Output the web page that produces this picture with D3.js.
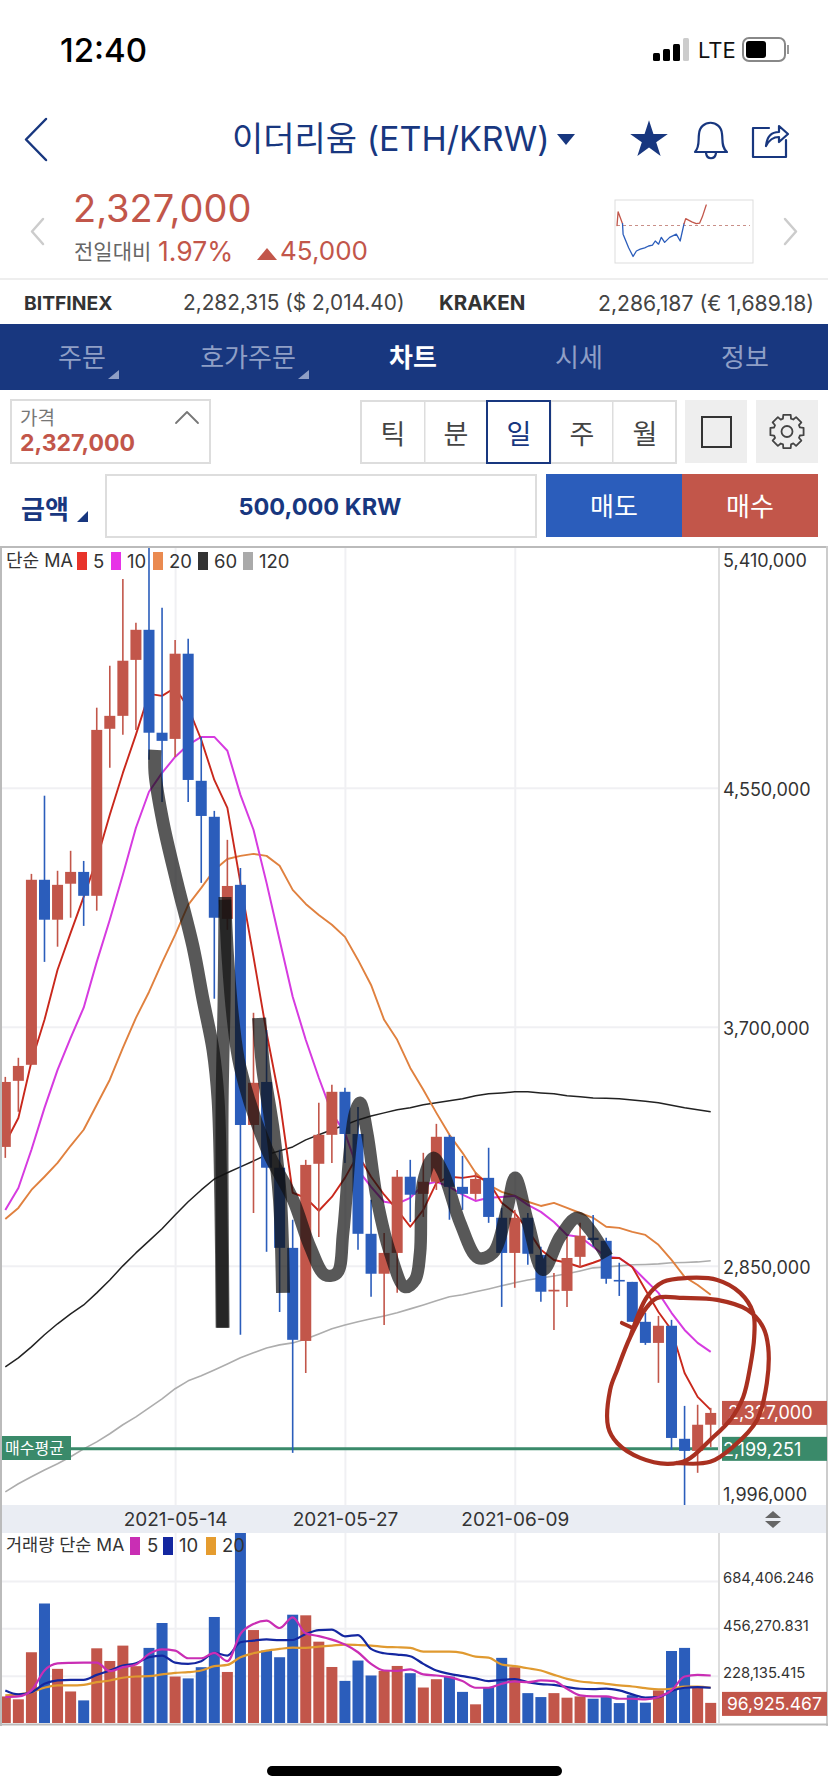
<!DOCTYPE html>
<html>
<head>
<meta charset="utf-8">
<script src="https://cdn.jsdelivr.net/npm/d3@7"></script>
<style>
  html, body { margin: 0; padding: 0; background: #fff; }
  svg { display: block; }
  text { font-family: Inter, "Noto Sans CJK KR", sans-serif; }
  .tick line { stroke: #f0f0f3; stroke-width: 2; }
  .domain { display: none; }
</style>
</head>
<body>
<svg id="page" width="828" height="1792"></svg>
<script>
// prices in thousand KRW, volumes in thousand ETH units, one entry per day from 2021-05-01
const opens = [3273,3508,3565,4223,4081,4209,4251,4166,4760,4806,5005,5112,4746,4724,5027,4575,4447,4084,4205,3351,3504,3199,2914,2583,3213,3316,3469,3319,2964,2822,2896,3167,3106,3149,3309,3131,3106,3163,3021,2896,3021,2889,2759,2761,2882,2950,2939,2800,2793,2651,2576,2637,2235,2192,2285];
const closes = [3504,3561,4223,4081,4205,4251,4166,4756,4806,5002,5112,4746,4717,5027,4578,4450,4088,4201,3351,3501,3199,2914,2587,3209,3316,3469,3319,2964,2822,2896,3167,3103,3149,3309,3131,3106,3159,3024,2896,3021,2893,2758,2765,2878,2957,2942,2804,2797,2651,2576,2637,2238,2192,2285,2327];
const highs = [3522,3590,4244,4522,4255,4326,4290,4835,4984,5293,5137,5500,5190,5076,5080,4731,4468,4365,4265,3750,3689,3263,3014,3227,3430,3494,3483,3415,3085,2967,3191,3227,3252,3355,3316,3241,3181,3270,3056,3049,3038,2918,2825,2953,3003,3031,2950,2861,2793,2683,2672,2658,2352,2356,2345];
const lows = [3234,3398,3565,3931,3985,4088,4059,4113,4621,4739,4756,4650,4500,4660,4500,4212,3800,4045,2605,3038,2900,2686,2185,2469,2953,3216,3216,2907,2740,2640,2754,3006,3024,3120,3014,3049,3085,3003,2704,2772,2854,2722,2622,2704,2843,2918,2786,2743,2651,2569,2434,2196,1982,2114,2206];

const ma5 = [3287,3376,3576,3725,3903,4034,4162,4294,4454,4603,4739,4884,4877,4906,4835,4721,4578,4479,4212,3949,3679,3440,3110,3092,3046,3095,3163,3245,3167,3103,3049,2989,3049,3145,3167,3163,3170,3149,3074,3038,2978,2907,2871,2861,2846,2861,2878,2878,2846,2765,2686,2622,2469,2384,2338];
const ma10 = [3049,3127,3263,3412,3547,3661,3768,3931,4081,4241,4408,4536,4603,4660,4703,4731,4731,4682,4525,4401,4212,4009,3807,3654,3519,3394,3323,3191,3131,3078,3071,3092,3138,3149,3131,3103,3081,3092,3095,3099,3067,3042,3006,2960,2953,2918,2882,2878,2846,2800,2754,2683,2622,2576,2544];
const ma20 = [3017,3056,3120,3167,3216,3277,3334,3423,3512,3625,3732,3824,3928,4027,4134,4194,4258,4297,4308,4315,4308,4273,4187,4137,4098,4063,4020,3938,3849,3725,3654,3554,3476,3394,3316,3252,3181,3138,3113,3099,3078,3063,3074,3056,3038,3021,2989,2985,2971,2960,2925,2871,2811,2782,2747];
const ma60 = [2491,2523,2562,2605,2644,2679,2711,2754,2800,2850,2896,2939,2982,3031,3078,3120,3159,3181,3202,3223,3245,3259,3273,3298,3316,3334,3351,3369,3383,3394,3405,3412,3423,3430,3437,3444,3455,3462,3465,3469,3469,3465,3462,3455,3451,3447,3446,3444,3440,3435,3430,3421,3412,3405,3398];
const ma120 = [2046,2075,2100,2124,2146,2171,2199,2224,2253,2285,2313,2345,2377,2413,2441,2459,2480,2501,2523,2541,2558,2569,2576,2590,2608,2626,2640,2651,2662,2672,2683,2697,2711,2726,2740,2747,2758,2768,2779,2790,2800,2807,2814,2822,2832,2843,2846,2850,2854,2855,2857,2861,2862,2864,2868];

const volumes = [128,114,341,576,261,152,109,360,299,373,274,362,482,224,215,269,511,246,930,448,349,317,522,519,392,270,203,301,229,251,275,240,171,211,224,150,90,173,314,269,144,125,144,122,128,117,125,96,134,98,157,347,362,173,97];
const volMa5 = [125,128,157,253,287,290,291,291,250,269,282,333,355,349,312,312,338,298,429,477,493,458,509,432,419,402,378,341,285,253,251,258,234,229,221,202,170,170,189,200,197,205,202,165,133,128,128,117,117,114,125,157,224,232,229];
const volMa10 = [157,138,149,189,205,208,208,232,253,277,288,317,325,291,285,298,338,325,389,397,403,399,400,429,448,450,418,424,357,336,330,322,285,253,237,226,215,202,208,211,197,187,184,173,165,163,166,157,138,123,125,154,170,173,170];
const volMa20 = [133,138,149,170,181,181,184,197,205,218,224,226,234,242,245,253,274,280,317,336,349,357,363,362,368,373,378,376,373,367,365,362,344,344,344,338,320,315,282,274,264,253,232,213,200,194,189,181,176,168,162,165,176,176,170];

const priceTicks = [5410, 4550, 3700, 2850, 1996];
const priceLabels = ['5,410,000', '4,550,000', '3,700,000', '2,850,000', '1,996,000'];
const volTicks = [684.406246, 456.270831, 228.135415];
const volLabels = ['684,406.246', '456,270.831', '228,135.415'];
const dateTicks = [13, 26, 39];
const dateLabels = ['2021-05-14', '2021-05-27', '2021-06-09'];
const lastPrice = 2327, avgBuy = 2199.251, lastVol = 96.925467;

// sparkline in the header: hour of day, price
const sparkHours = [0,.2,1,1.1,2.1,2.9,3.5,4.2,5,5.7,6.4,6.9,7.5,8,8.6,9.5,10.7,11.4,12.1,12.4,13.5,14.3,14.9,15.4,16.1];
const sparkPrices = [2282,2312,2286,2263,2233,2214,2226,2230,2233,2237,2239,2248,2241,2256,2245,2256,2263,2248,2286,2297,2290,2286,2287,2301,2327];

// hand drawn pen marks on the screenshot: [candle index, price]
const penGrey = [[11.46,4685],[11.46,4603],[12.08,4426],[13.15,4212],[14.37,3985],[15.14,3796],[15.9,3618],[16.29,3440],[16.5,3085],[16.6,2630]];
const penBar = [[16.82,4162],[16.75,3796],[16.6,3440],[16.6,3085],[16.67,2630]];
const penShort = [[19.43,3732],[19.73,3558],[20.5,3323],[21.03,3085],[21.26,2754]];
const penWave = [[16.82,4152],[17.05,3938],[17.44,3725],[17.97,3558],[20.04,3263],[22.03,3085],[23.33,2918],[24.48,2818],[25.4,2825],[25.86,2967],[26.39,3263],[26.78,3394],[27.16,3430],[27.7,3323],[28.46,3085],[29.46,2896],[30.6,2775],[31.37,2800],[31.75,2896],[31.98,3145],[32.75,3234],[33.52,3181],[34.82,3003],[36.2,2878],[37.34,2896],[38.4,3049],[39.03,3163],[40.02,3003],[41.17,2836],[42.47,2953],[43.78,3021],[44.77,2978],[46.07,2882]];
const penTick = [[47.2,2647],[47.99,2630]];
const penCircle = [[47.84,2597],[49.13,2740],[50.36,2793],[52.2,2807],[54.5,2800],[56.26,2754],[57.25,2683],[57.33,2597],[57.02,2491],[56.49,2384],[55.49,2302],[53.96,2231],[52.2,2160],[50.67,2146],[48.6,2167],[46.84,2220],[46.15,2277],[46.3,2409],[46.84,2480],[47.84,2597],[49.13,2704],[49.9,2736],[51.9,2736],[54.5,2729],[56.8,2694],[58,2633],[58.4,2562],[58.3,2434],[57.55,2302],[55.7,2206],[53.96,2153],[51.4,2149]];

const RED = '#c2564a', BLUE = '#2b5dbb', NAVY = '#18377f', GREEN = '#3a8a6a';

const svg = d3.select('#page');

function label(txt, x, y, size, fill, anchor, weight) {
  return svg.append('text').attr('x', x).attr('y', y).attr('dy', '.36em')
    .attr('font-size', size).attr('fill', fill)
    .attr('text-anchor', anchor || 'start').attr('font-weight', weight || 400)
    .text(txt);
}
function shape(d, fill, stroke, sw) {
  return svg.append('path').attr('d', d).attr('fill', fill || 'none')
    .attr('stroke', stroke || 'none').attr('stroke-width', sw || 0)
    .attr('stroke-linejoin', 'round').attr('stroke-linecap', 'round');
}
function box(x, y, w, h, fill, stroke, sw) {
  return svg.append('rect').attr('x', x).attr('y', y).attr('width', w).attr('height', h)
    .attr('fill', fill || 'none').attr('stroke', stroke || 'none').attr('stroke-width', sw || 0);
}

// ---- status bar
label('12:40', 60, 50, 33, '#000', 'start', 500).attr('font-family', 'Roboto');
[[653,53,7,8],[663,49,7,12],[673,44,7,17],[683,38,6,23]].forEach((b, i) => {
  box(b[0], b[1], b[2], b[3], i == 3 ? '#ccc' : '#000').attr('rx', 1.5);
});
label('LTE', 698, 50, 22, '#111', 'start', 400).attr('font-family', 'Roboto');
box(743, 38, 42, 23, 'none', '#888', 2).attr('rx', 6);
box(746, 41, 20, 17, '#000').attr('rx', 3);
box(787, 45, 2, 9, '#999');

// ---- title row
shape('M46,119L26,139.5L46,160', null, NAVY, 2.5);
label('이더리움 (ETH/KRW)', 232, 139, 34, NAVY);
shape('M557,134H575L566,145Z', NAVY);
svg.append('path').attr('d', d3.symbol(d3.symbolStar, 440)()).attr('transform', 'translate(649,140)').attr('fill', NAVY);
shape('M695,152C700,147 698,140 699,134C700,119 721,119 722,134C723,140 721,147 727,152Z M706,153C707,160 715,160 716,153', null, NAVY, 2.2);
shape('M769,128H753V157H786V140', null, NAVY, 2.2);
shape('M766,146C767,135 773,132 779,132V126L788,134L779,142V137C773,137 769,140 766,146Z', null, NAVY, 2.2);

// ---- price row
shape('M43,219L32,231.5L43,244', null, '#ccc', 2.5);
shape('M785,219L796,231.5L785,244', null, '#ccc', 2.5);
label('2,327,000', 73, 208, 38, RED);
label('전일대비', 74, 251, 21, '#666');
label('1.97%', 158, 251, 26.5, RED);
shape('M257,260L267,248L277,260Z', RED);
label('45,000', 280, 251, 26, RED);

// sparkline
box(615, 200, 138, 63, '#fff', '#ddd', 1);
const sparkX = d3.scaleLinear().domain([0, 24]).range([617, 750]);
const sparkY = d3.scaleLinear().domain([2282, 2327]).range([225.5, 205]);
svg.append('line').attr('x1', 617).attr('x2', 750).attr('y1', sparkY(2282)).attr('y2', sparkY(2282))
  .attr('stroke', '#c98f88').attr('stroke-width', 1).attr('stroke-dasharray', '3 3');
const sparkLine = d3.line().x(d => sparkX(d[0])).y(d => sparkY(d[1]));
const sparkPts = d3.zip(sparkHours, sparkPrices);
shape(sparkLine(sparkPts.slice(0, 3)), null, RED, 1.3);
shape(sparkLine(sparkPts.slice(2, 19)), null, BLUE, 1.3);
shape(sparkLine(sparkPts.slice(18)), null, RED, 1.3);

// ---- exchange row
box(0, 278, 828, 2, '#eee');
label('BITFINEX', 24, 303, 19.3, '#333', 'start', 700);
label('2,282,315 ($ 2,014.40)', 183, 303, 20.8, '#444');
label('KRAKEN', 439, 303, 20.5, '#333', 'start', 700);
label('2,286,187 (€ 1,689.18)', 598, 303, 21.2, '#444');

// ---- tabs
box(0, 324, 828, 66, NAVY);
const tabNames = ['주문', '호가주문', '차트', '시세', '정보'];
const tabCentres = [82, 248, 413, 579, 745];
tabNames.forEach((t, i) => {
  label(t, tabCentres[i], 358, 26, i == 2 ? '#fff' : '#8f9fc6', 'middle', i == 2 ? 700 : 400);
});
shape('M119,370V379H108Z', '#8f9fc6');
shape('M309,370V379H298Z', '#8f9fc6');

// ---- controls
box(11, 400, 199, 63, '#fff', '#ddd', 2);
label('가격', 20, 418, 19, '#777');
label('2,327,000', 20, 443, 23, RED, 'start', 700);
shape('M176,423L187,412L198,423', null, '#777', 1.8);

box(361, 401, 315, 62, '#fff', '#ddd', 2);
[424, 486, 550, 612].forEach(x => box(x, 401, 1.5, 62, '#ddd'));
const periodNames = ['틱', '분', '일', '주', '월'];
const periodCentres = [393, 456, 519, 582, 645];
periodNames.forEach((t, i) => label(t, periodCentres[i], 434, 27, i == 2 ? NAVY : '#444', 'middle'));
box(487, 401, 63, 62, 'none', NAVY, 2);
box(685, 400, 62, 63, '#eee');
box(702, 417, 29, 30, 'none', '#333', 2);
box(756, 400, 62, 63, '#eee');
const gear = d3.lineRadial().curve(d3.curveLinearClosed)
  .angle(d => d[0]).radius(d => d[1]);
const gearPts = [];
d3.range(8).forEach(k => {
  const a = k * Math.PI / 4;
  gearPts.push([a - .22, 17], [a + .22, 17], [a + .3, 13.5], [a + .48, 13.5]);
});
shape(gear(gearPts), 'none', '#444', 1.8).attr('transform', 'translate(787,431.5)');
svg.append('circle').attr('cx', 787).attr('cy', 431.5).attr('r', 5.5).attr('fill', 'none').attr('stroke', '#444').attr('stroke-width', 1.8);

label('금액', 21, 510, 26, NAVY, 'start', 700);
shape('M88,511V522H77Z', NAVY);
box(106, 475, 430, 62, '#fff', '#ddd', 2);
label('500,000 KRW', 320, 507, 23.5, NAVY, 'middle', 700);
box(546, 474, 136, 63, BLUE);
box(682, 474, 136, 63, RED);
label('매도', 614, 507, 26, '#fff', 'middle');
label('매수', 750, 507, 26, '#fff', 'middle');

// ---- chart scales
const x = d3.scaleLinear().domain([0, 54]).range([5.3, 710.7]);
const y = d3.scaleLinear().domain([1996, 5410]).range([1506, 546]);
const yVol = d3.scaleLinear().domain([0, 915.8]).range([1723, 1533]);
const barW = 11;
const days = d3.range(opens.length);
const isUp = i => closes[i] > opens[i];
const colour = i => isUp(i) ? RED : BLUE;

const defs = svg.append('defs');
defs.append('clipPath').attr('id', 'pricePlot').append('rect').attr('x', 2).attr('y', 547).attr('width', 716).attr('height', 958);
defs.append('clipPath').attr('id', 'volPlot').append('rect').attr('x', 2).attr('y', 1533).attr('width', 716).attr('height', 190);

// gridlines through both panels
[[547, 1505], [1533, 1723]].forEach(r => {
  const g = svg.append('g').attr('transform', `translate(0,${r[1]})`)
    .call(d3.axisBottom(x).tickValues(dateTicks).tickSize(r[0] - r[1]).tickFormat(''));
  g.selectAll('line').attr('y2', r[0] - r[1]);
});
svg.append('g').attr('transform', 'translate(718,0)')
  .call(d3.axisRight(y).tickValues(priceTicks.slice(1, 4)).tickSize(-716).tickFormat(''));
svg.append('g').attr('transform', 'translate(718,0)')
  .call(d3.axisRight(yVol).tickValues(volTicks).tickSize(-716).tickFormat(''));

// ---- moving averages sit behind the candles
const priceLine = d3.line().x((d, i) => x(i)).y(d => y(d));
const pricePlot = svg.append('g').attr('clip-path', 'url(#pricePlot)');
const maSeries = [
  [ma120, '#adadad', 1.6],
  [ma60, '#222', 1.5],
  [ma20, '#e0813f', 1.9],
  [ma10, '#d63be0', 2],
  [ma5, '#c9281c', 1.9]
];
maSeries.forEach(s => {
  pricePlot.append('path').attr('d', priceLine(s[0])).attr('fill', 'none')
    .attr('stroke', s[1]).attr('stroke-width', s[2]).attr('stroke-linejoin', 'round');
});

pricePlot.append('line').attr('x1', 2).attr('x2', 718).attr('y1', y(avgBuy)).attr('y2', y(avgBuy))
  .attr('stroke', GREEN).attr('stroke-width', 3);

pricePlot.selectAll('line.wick').data(days).enter().append('line')
  .attr('class', 'wick')
  .attr('x1', i => x(i)).attr('x2', i => x(i))
  .attr('y1', i => y(highs[i])).attr('y2', i => y(lows[i]))
  .attr('stroke', colour).attr('stroke-width', 1.6);

pricePlot.selectAll('rect.body').data(days).enter().append('rect')
  .attr('class', 'body')
  .attr('x', i => x(i) - barW / 2).attr('width', barW)
  .attr('y', i => y(Math.max(opens[i], closes[i])))
  .attr('height', i => Math.max(1.6, Math.abs(y(opens[i]) - y(closes[i]))))
  .attr('fill', colour);

// ---- volume panel
const volPlot = svg.append('g').attr('clip-path', 'url(#volPlot)');
volPlot.selectAll('rect').data(days).enter().append('rect')
  .attr('x', i => x(i) - barW / 2).attr('width', barW)
  .attr('y', i => yVol(volumes[i])).attr('height', i => yVol(0) - yVol(volumes[i]))
  .attr('fill', colour);
const volLine = d3.line().x((d, i) => x(i)).y(d => yVol(d)).curve(d3.curveMonotoneX);
[[volMa20, '#e09a30'], [volMa10, '#1427a0'], [volMa5, '#c92eb4']].forEach(s => {
  volPlot.append('path').attr('d', volLine(s[0])).attr('fill', 'none')
    .attr('stroke', s[1]).attr('stroke-width', 2.2);
});

// ---- date band and frame
box(2, 1505, 824, 28, '#eaedf3');
const dateAxis = svg.append('g').attr('transform', 'translate(0,1505)')
  .call(d3.axisBottom(x).tickValues(dateTicks).tickSize(0).tickFormat((d, i) => dateLabels[i]));
dateAxis.selectAll('text').attr('y', 14).attr('dy', '.36em').attr('font-size', 19).attr('fill', '#333')
  .attr('font-family', 'Inter');
shape('M765,1518L773,1511L781,1518Z', '#666');
shape('M765,1521L773,1528L781,1521Z', '#666');

box(718, 547, 2, 958, '#ddd');
box(718, 1533, 2, 190, '#ddd');
box(0, 546, 2, 1180, '#bbb');
box(0, 546, 828, 2, '#bbb');
box(826, 546, 2, 1180, '#ccc');
box(0, 1723.5, 828, 2, '#bbb');

// ---- axis labels
const priceAxis = svg.append('g').attr('transform', 'translate(723,1.5)')
  .call(d3.axisRight(y).tickValues(priceTicks).tickSize(0).tickPadding(0).tickFormat((d, i) => priceLabels[i]));
priceAxis.selectAll('text').attr('font-size', 18).attr('fill', '#333').attr('font-family', 'Inter');
priceAxis.selectAll('.tick').filter(d => d == 5410).attr('transform', `translate(0,560)`);
priceAxis.selectAll('.tick').filter(d => d == 1996).attr('transform', `translate(0,1493.5)`);

const volAxis = svg.append('g').attr('transform', 'translate(723,-3)')
  .call(d3.axisRight(yVol).tickValues(volTicks).tickSize(0).tickPadding(0).tickFormat((d, i) => volLabels[i]));
volAxis.selectAll('text').attr('font-size', 14.8).attr('fill', '#333').attr('font-family', 'Inter');

box(722, y(lastPrice) - 12, 105, 24, RED);
label('2,327,000', 728, y(lastPrice), 18, '#fff');
box(722, y(avgBuy) - 12, 105, 24, GREEN);
label('2,199,251', 723, y(avgBuy) + 1, 18, '#fff');
box(722, yVol(lastVol) - 11, 105, 24, RED);
label('96,925.467', 727, yVol(lastVol) + 1, 17.5, '#fff');

box(2, 1436, 69, 24, GREEN);
label('매수평균', 5, 1448, 16, '#fff');

// ---- legends
label('단순 MA', 6, 561, 18, '#333');
const legendSwatch = [[77, '#e8332a', '5', 93], [111, '#e733e7', '10', 127], [153, '#ea8a50', '20', 169], [198, '#333', '60', 214], [243, '#aaa', '120', 259]];
legendSwatch.forEach(l => {
  box(l[0], 552, 10, 18, l[1]);
  label(l[2], l[3], 561, 18.5, '#333');
});
label('거래량 단순 MA', 6, 1545, 17.5, '#333');
const volSwatch = [[130, '#c92eb4', '5', 147], [163, '#1427a0', '10', 179], [206, '#e59c2f', '20', 222]];
volSwatch.forEach(l => {
  box(l[0], 1537, 10, 18, l[1]);
  label(l[2], l[3], 1545, 18.5, '#333');
});

// ---- pen marks over everything
const pen = d3.line().x(d => x(d[0])).y(d => y(d[1])).curve(d3.curveCatmullRom.alpha(0.5));
[[penGrey, 13], [penBar, 13], [penShort, 14], [penWave, 12.5]].forEach(p => {
  shape(pen(p[0]), null, '#111', p[1]).attr('opacity', 0.7).attr('stroke-linecap', 'butt');
});
shape(pen(penTick), null, '#a93020', 4);
shape(pen(penCircle), null, '#a93020', 4.2);

// ---- home indicator
box(267, 1766, 295, 10, '#000').attr('rx', 5);
</script>
</body>
</html>
